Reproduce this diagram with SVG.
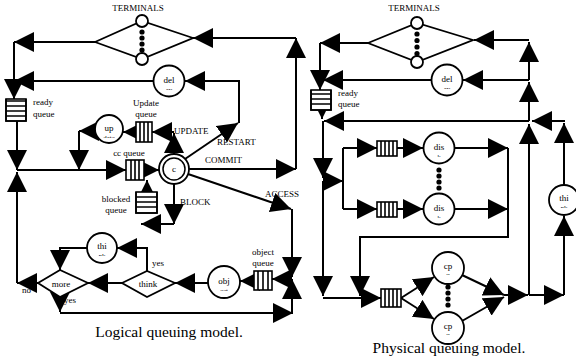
<svg xmlns="http://www.w3.org/2000/svg" width="576" height="362" viewBox="0 0 576 362">
<style>
text{font-family:"Liberation Serif","Times New Roman",serif;fill:#000}
.lb{font-size:9px}
.mid{text-anchor:middle}
.nd{font-size:9px;text-anchor:middle}
.sub{font-size:7px;text-anchor:middle;clip-path:url(#half)}
.cap{font-size:15.5px;text-anchor:middle}
.cn{fill:none;stroke:#000;stroke-width:2;marker-end:url(#ah)}
.ln{fill:none;stroke:#000;stroke-width:2}
.sh{fill:#fff;stroke:#000;stroke-width:1.8}
.q{fill:#fff;stroke:#000;stroke-width:1.6}
.qb{fill:none;stroke:#000;stroke-width:1.6}
.dot{fill:#000}
</style>
<defs>
<marker id="ah" markerUnits="userSpaceOnUse" markerWidth="20" markerHeight="20" viewBox="0 0 20 20" refX="20" refY="10" orient="auto"><path d="M0,0 L20,10 L0,20 z" fill="#000"/></marker>
<clipPath id="half" clipPathUnits="objectBoundingBox"><rect x="0" y="0" width="1" height="0.5"/></clipPath>
</defs>

<!-- ===== LEFT: logical queuing model ===== -->
<g id="connectors-left">
<path class="cn" d="M95,42 H14"/>
<path class="cn" d="M14,42 V99"/>
<path class="cn" d="M154,81 H14"/>
<path class="cn" d="M17,121 V170"/>
<path class="cn" d="M17,170 H126"/>
<path class="cn" d="M38,283 H17"/>
<path class="cn" d="M17,283 V172"/>
<path class="cn" d="M95,131 H79"/>
<path class="cn" d="M79,131 V170"/>
<path class="cn" d="M136,132 H123"/>
<path class="cn" d="M174,154 V133"/>
<path class="cn" d="M174,132 H152"/>
<path class="cn" d="M144,170 H159"/>
<path class="cn" d="M147,192 V180"/>
<path class="cn" d="M174,184 V224"/>
<path class="cn" d="M174,224 H141"/>
<path class="cn" d="M185,159 L238,123"/>
<path class="cn" d="M239,123 V81 H185"/>
<path class="cn" d="M189,169 H296"/>
<path class="cn" d="M296,169 V38"/>
<path class="cn" d="M296,38 H193"/>
<path class="cn" d="M188,174 L291,209"/>
<path class="cn" d="M292,209 V277"/>
<path class="cn" d="M292,313 V279"/>
<path class="cn" d="M292,279 H272"/>
<path class="cn" d="M254,281 H240"/>
<path class="cn" d="M208,283 H175"/>
<path class="cn" d="M122,283 H88"/>
<path class="cn" d="M147,271 V248 H117"/>
<path class="cn" d="M87,248 H60 V270"/>
<path class="cn" d="M60,297 V312"/>
<path class="cn" d="M60,313 H293"/>
</g>

<g id="terminals-left">
<path d="M95,42 L142,21 L193,38 L142,59 Z" fill="none" stroke="#000" stroke-width="1.8"/>
<circle class="sh" cx="142" cy="21" r="6"/>
<circle class="sh" cx="142" cy="59" r="6"/>
<circle class="dot" cx="142" cy="32" r="2.6"/>
<circle class="dot" cx="142" cy="38" r="2.6"/>
<circle class="dot" cx="142" cy="44" r="2.6"/>
<circle class="dot" cx="142" cy="50" r="2.6"/>
<text class="lb mid" x="138" y="11">TERMINALS</text>
</g>

<g id="ready-queue-left">
<rect class="q" x="6" y="99" width="20" height="22" stroke="none"/>
<path class="qb" d="M6,99 V121 H26 V99 M6,101 H26 M6,106 H26 M6,111 H26 M6,116 H26"/>
<text class="lb" x="33" y="105">ready</text>
<text class="lb" x="33" y="117">queue</text>
</g>

<g id="delay-left">
<circle class="sh" cx="169" cy="81" r="15.5"/>
<text class="nd" x="169" y="83">del</text>
<text class="sub" x="169" y="92">ay</text>
</g>

<g id="update-queue">
<rect class="q" x="136" y="122" width="16" height="20"/>
<path class="qb" d="M140,122 V142 M144,122 V142 M148,122 V142"/>
<text class="lb mid" x="146" y="106">Update</text>
<text class="lb mid" x="146" y="117">queue</text>
</g>

<g id="update-node">
<circle class="sh" cx="109" cy="129" r="14"/>
<text class="nd" x="109" y="131">up</text>
<text class="sub" x="109" y="140">date</text>
</g>

<g id="cc-queue">
<rect class="q" x="126" y="160" width="18" height="20"/>
<path class="qb" d="M131,160 V180 M135,160 V180 M139,160 V180"/>
<text class="lb mid" x="129" y="156">cc queue</text>
</g>

<g id="blocked-queue">
<rect class="q" x="136" y="192" width="21" height="21" stroke="none"/>
<path class="qb" d="M136,192 V213 H157 V192 M136,197 H157 M136,202 H157 M136,207 H157"/>
<text class="lb mid" x="116" y="202">blocked</text>
<text class="lb mid" x="116" y="213">queue</text>
</g>

<g id="cc-node">
<circle class="sh" cx="174" cy="169" r="15"/>
<circle fill="none" stroke="#000" stroke-width="1.5" cx="174" cy="169" r="11"/>
<text class="nd" x="174" y="172">c</text>
</g>

<g id="labels-left">
<text class="lb" x="174" y="134">UPDATE</text>
<text class="lb" x="217" y="145">RESTART</text>
<text class="lb" x="205" y="163">COMMIT</text>
<text class="lb" x="265" y="197">ACCESS</text>
<text class="lb" x="180" y="205">BLOCK</text>
<text class="lb" x="152" y="266">yes</text>
<text class="lb" x="22" y="293">no</text>
<text class="lb" x="64" y="303">yes</text>
</g>

<g id="object-queue">
<rect class="q" x="254" y="271" width="18" height="19"/>
<path class="qb" d="M258,271 V290 M263,271 V290 M268,271 V290"/>
<text class="lb mid" x="263" y="255">object</text>
<text class="lb mid" x="263" y="266">queue</text>
</g>

<g id="object-node">
<circle class="sh" cx="224" cy="282" r="16"/>
<text class="nd" x="224" y="284">obj</text>
<text class="sub" x="224" y="293">ect</text>
</g>

<g id="think-decision">
<path class="sh" d="M122,283 L147,271 L175,283 L147,297 Z"/>
<text class="nd" x="148" y="287">think</text>
</g>

<g id="think-node-left">
<circle class="sh" cx="102" cy="248" r="15"/>
<text class="nd" x="102" y="249">thi</text>
<text class="sub" x="102" y="258">nk</text>
</g>

<g id="more-decision">
<path class="sh" d="M38,283 L60,270 L88,283 L60,297 Z"/>
<text class="nd" x="61" y="287">more</text>
</g>

<text class="cap" x="169" y="337">Logical queuing model.</text>

<!-- ===== RIGHT: physical queuing model ===== -->
<g id="connectors-right">
<path class="cn" d="M368,43 H320"/>
<path class="cn" d="M320,43 V90"/>
<path class="cn" d="M432,80 H323"/>
<path class="cn" d="M322,110 V119"/>
<path class="cn" d="M529,121 H324"/>
<path class="cn" d="M323,121 V178"/>
<path class="cn" d="M323,181 H343"/>
<path class="cn" d="M323,181 V296"/>
<path class="ln" d="M343,148 V209"/>
<path class="cn" d="M343,148 H377"/>
<path class="cn" d="M343,209 H377"/>
<path class="cn" d="M397,148 H423"/>
<path class="cn" d="M397,209 H423"/>
<path class="cn" d="M455,148 H508"/>
<path class="cn" d="M455,209 H508"/>
<path class="cn" d="M508,148 V237 H360 V296"/>
<path class="cn" d="M323,298 H381"/>
<path class="cn" d="M401,298 L434,277"/>
<path class="cn" d="M401,298 L434,319"/>
<path class="cn" d="M462,275 L504,295"/>
<path class="cn" d="M462,321 L504,297"/>
<path class="cn" d="M504,295 H528"/>
<path class="cn" d="M529,295 H564"/>
<path class="cn" d="M564,295 V216"/>
<path class="cn" d="M564,185 V123"/>
<path class="cn" d="M565,121 H532"/>
<path class="cn" d="M529,295 V124"/>
<path class="cn" d="M529,121 V82"/>
<path class="cn" d="M529,80 V42"/>
<path class="cn" d="M529,40 H474"/>
<path class="cn" d="M529,80 H463"/>
</g>

<g id="terminals-right">
<path d="M368,43 L417,23 L473,40 L417,62 Z" fill="none" stroke="#000" stroke-width="1.8"/>
<circle class="sh" cx="417" cy="23" r="6"/>
<circle class="sh" cx="417" cy="62" r="6"/>
<circle class="dot" cx="417" cy="34" r="2.6"/>
<circle class="dot" cx="417" cy="40.5" r="2.6"/>
<circle class="dot" cx="417" cy="47" r="2.6"/>
<circle class="dot" cx="417" cy="53.5" r="2.6"/>
<text class="lb mid" x="414" y="11">TERMINALS</text>
</g>

<g id="delay-right">
<circle class="sh" cx="447" cy="80" r="15.5"/>
<text class="nd" x="447" y="82">del</text>
<text class="sub" x="447" y="91">ay</text>
</g>

<g id="ready-queue-right">
<rect class="q" x="311" y="90" width="20" height="20" stroke="none"/>
<path class="qb" d="M311,90 V110 H331 V90 M311,94 H331 M311,99 H331 M311,104 H331"/>
<text class="lb" x="338" y="96">ready</text>
<text class="lb" x="338" y="107">queue</text>
</g>

<g id="disk-queue-1">
<rect class="q" x="377" y="141" width="20" height="15"/>
<path class="qb" d="M381,141 V156 M385,141 V156 M389,141 V156 M393,141 V156"/>
</g>
<g id="disk-queue-2">
<rect class="q" x="377" y="202" width="20" height="15"/>
<path class="qb" d="M381,202 V217 M385,202 V217 M389,202 V217 M393,202 V217"/>
</g>

<g id="disk-1">
<circle class="sh" cx="439" cy="148" r="15.5"/>
<text class="nd" x="439" y="150">dis</text>
<text class="sub" x="439" y="159">k</text>
</g>
<g id="disk-dots">
<circle class="dot" cx="439" cy="170" r="2.6"/>
<circle class="dot" cx="439" cy="176" r="2.6"/>
<circle class="dot" cx="439" cy="182" r="2.6"/>
<circle class="dot" cx="439" cy="188" r="2.6"/>
</g>
<g id="disk-2">
<circle class="sh" cx="439" cy="209" r="15.5"/>
<text class="nd" x="439" y="211">dis</text>
<text class="sub" x="439" y="220">k</text>
</g>

<g id="cpu-queue">
<rect class="q" x="381" y="289" width="20" height="18"/>
<path class="qb" d="M385,289 V307 M389,289 V307 M393,289 V307 M397,289 V307"/>
</g>

<g id="cpu-1">
<circle class="sh" cx="448" cy="268" r="16"/>
<text class="nd" x="448" y="269">cp</text>
<text class="sub" x="448" y="277">u</text>
</g>
<g id="cpu-dots">
<circle class="dot" cx="448" cy="287" r="2.6"/>
<circle class="dot" cx="448" cy="293" r="2.6"/>
<circle class="dot" cx="448" cy="299" r="2.6"/>
<circle class="dot" cx="448" cy="305" r="2.6"/>
</g>
<g id="cpu-2">
<circle class="sh" cx="448" cy="328" r="16"/>
<text class="nd" x="448" y="329">cp</text>
<text class="sub" x="448" y="337">u</text>
</g>

<g id="think-node-right">
<circle class="sh" cx="564" cy="200" r="15"/>
<text class="nd" x="564" y="201">thi</text>
<text class="sub" x="564" y="210">nk</text>
</g>

<text class="cap" x="449" y="353">Physical queuing model.</text>
</svg>
